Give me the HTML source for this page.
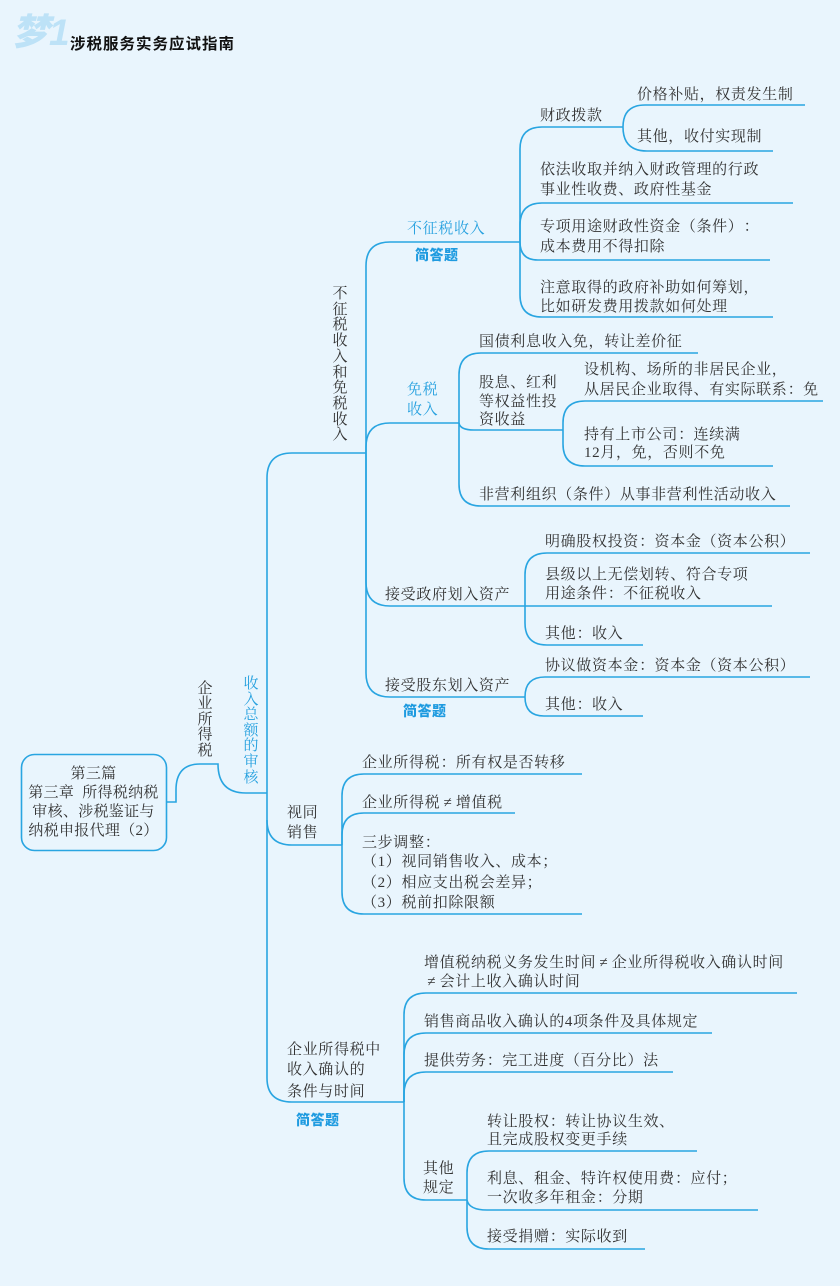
<!DOCTYPE html>
<html lang="zh-CN"><head><meta charset="utf-8"><style>
html,body{margin:0;padding:0}
body{width:840px;height:1286px;background:#e9f5fd;position:relative;overflow:hidden}
.t{position:absolute;white-space:nowrap;font-family:"Liberation Serif","Noto Serif CJK SC",serif;font-size:15px;letter-spacing:0.65px;line-height:20px;color:#333;text-spacing-trim:space-all;font-kerning:none}
.b{color:#27a1df}
.w{display:inline-block;width:15.6px;text-align:center}
.c{display:inline-block;width:15.65px;text-align:center;letter-spacing:0}
.q{position:absolute;white-space:nowrap;font-family:"Liberation Sans","Noto Sans CJK SC",sans-serif;font-weight:900;font-size:14px;line-height:20px;color:#1f9be0;letter-spacing:0.5px}
.v{position:absolute;width:20px;text-align:center;font-family:"Liberation Serif","Noto Serif CJK SC",serif;font-size:15px;color:#333}
svg{position:absolute;left:0;top:0}
</style></head><body>
<svg width="840" height="1286" viewBox="0 0 840 1286" fill="none" stroke="#29a5e1" stroke-width="1.6">
<rect x="21.5" y="754.5" width="145" height="96" rx="13" ry="13"/>
<path d="M166 802 H176 V790 Q176 764 200 764 H218 Q218 793 246 793 H267"/>
<path d="M366 453 H292 Q267 453 267 478 V1078 Q267 1102 292 1102 H404"/>
<path d="M267 820 Q267 845 292 845 H342"/>
<path d="M366 453 V266 Q366 242 390 242 H520"/>
<path d="M366 453 V447 Q366 423 390 423 H459"/>
<path d="M366 453 V582 Q366 606 390 606 H525"/>
<path d="M366 453 V673 Q366 697 390 697 H525"/>
<path d="M520 242 V149 Q520 127 542 127 H623"/>
<path d="M520 242 V225 Q520 203 542 203 H793"/>
<path d="M520 242 Q520 260 538 260 H770"/>
<path d="M520 242 V295 Q520 317 542 317 H773"/>
<path d="M623 127 Q623 105 645 105 H805"/>
<path d="M623 127 Q623 151 647 151 H773"/>
<path d="M459 423 V375 Q459 353 481 353 H698"/>
<path d="M459 423 Q460 430 474 430 H563"/>
<path d="M459 423 V484 Q459 506 481 506 H790"/>
<path d="M563 430 V423 Q563 401 585 401 H823"/>
<path d="M563 430 V444 Q563 466 585 466 H773"/>
<path d="M525 606 V575 Q525 553 547 553 H810"/>
<path d="M525 606 H772"/>
<path d="M525 606 V623 Q525 645 547 645 H643"/>
<path d="M525 697 Q525 677 545 677 H810"/>
<path d="M525 697 Q525 716 544 716 H643"/>
<path d="M342 845 V796 Q342 774 364 774 H582"/>
<path d="M342 845 V835 Q342 813 364 813 H515"/>
<path d="M342 845 V892 Q342 914 364 914 H582"/>
<path d="M404 1102 V1015 Q404 993 426 993 H797"/>
<path d="M404 1102 V1055 Q404 1033 426 1033 H712"/>
<path d="M404 1102 V1094 Q404 1072 426 1072 H673"/>
<path d="M404 1102 V1178 Q404 1200 426 1200 H467"/>
<path d="M467 1200 V1173 Q467 1151 489 1151 H697"/>
<path d="M467 1200 Q469 1210 487 1210 H758"/>
<path d="M467 1200 V1227 Q467 1249 489 1249 H645"/>
</svg>

<!-- header -->
<div style="position:absolute;left:12px;top:9px;font-family:'Liberation Sans','Noto Sans CJK SC',sans-serif;font-weight:900;font-style:italic;font-size:37px;line-height:48px;color:#bde2f7;white-space:nowrap">梦1</div>
<div style="position:absolute;left:70px;top:35px;font-family:'Liberation Sans','Noto Sans CJK SC',sans-serif;font-weight:700;font-size:15.5px;line-height:20px;letter-spacing:1px;color:#111;white-space:nowrap">涉税服务实务应试指南</div>

<!-- root box text -->
<div class="t" style="left:21px;width:145px;text-align:center;top:765px;line-height:19px;letter-spacing:0.3px">第三篇<br>第三章&nbsp;&nbsp;所得税纳税<br>审核、涉税鉴证与<br>纳税申报代理（2）</div>

<!-- vertical texts -->
<div class="v" style="left:195px;top:682px;line-height:15.4px">企<br>业<br>所<br>得<br>税</div>
<div class="v" style="left:241px;top:677px;line-height:15.6px;color:#27a1df">收<br>入<br>总<br>额<br>的<br>审<br>核</div>
<div class="v" style="left:330px;top:287px;line-height:15.7px">不<br>征<br>税<br>收<br>入<br>和<br>免<br>税<br>收<br>入</div>

<!-- blue labels -->
<div class="t b" style="left:407px;top:219px">不征税收入</div>
<div class="q" style="left:415px;top:245px">简答题</div>
<div class="t b" style="left:407px;top:380px">免税</div>
<div class="t b" style="left:407px;top:400px">收入</div>
<div class="q" style="left:403px;top:701px">简答题</div>
<div class="q" style="left:296px;top:1110px">简答题</div>

<!-- 不征税收入 children -->
<div class="t" style="left:540px;top:106px">财政拨款</div>
<div class="t" style="left:637px;top:85px">价格补贴，权责发生制</div>
<div class="t" style="left:637px;top:127px">其他，收付实现制</div>
<div class="t" style="left:540px;top:160px">依法收取并纳入财政管理的行政</div>
<div class="t" style="left:540px;top:180px">事业性收费、政府性基金</div>
<div class="t" style="left:540px;top:217px">专项用途财政性资金（条件）<span class="c">：</span></div>
<div class="t" style="left:540px;top:237px">成本费用不得扣除</div>
<div class="t" style="left:540px;top:278px">注意取得的政府补助如何筹划，</div>
<div class="t" style="left:540px;top:297px">比如研发费用拨款如何处理</div>

<!-- 免税收入 children -->
<div class="t" style="left:479px;top:332px">国债利息收入免，转让差价征</div>
<div class="t" style="left:479px;top:373px">股息、红利</div>
<div class="t" style="left:479px;top:392px">等权益性投</div>
<div class="t" style="left:479px;top:410px">资收益</div>
<div class="t" style="left:584px;top:360px">设机构、场所的非居民企业，</div>
<div class="t" style="left:584px;top:380px">从居民企业取得、有实际联系<span class="c">：</span>免</div>
<div class="t" style="left:584px;top:425px">持有上市公司<span class="c">：</span>连续满</div>
<div class="t" style="left:584px;top:443px">12月，免，否则不免</div>
<div class="t" style="left:479px;top:485px">非营利组织（条件）从事非营利性活动收入</div>

<!-- 划入资产 -->
<div class="t" style="left:385px;top:585px">接受政府划入资产</div>
<div class="t" style="left:545px;top:532px">明确股权投资<span class="c">：</span>资本金（资本公积）</div>
<div class="t" style="left:545px;top:565px">县级以上无偿划转、符合专项</div>
<div class="t" style="left:545px;top:584px">用途条件<span class="c">：</span>不征税收入</div>
<div class="t" style="left:545px;top:624px">其他<span class="c">：</span>收入</div>
<div class="t" style="left:385px;top:676px">接受股东划入资产</div>
<div class="t" style="left:545px;top:656px">协议做资本金<span class="c">：</span>资本金（资本公积）</div>
<div class="t" style="left:545px;top:695px">其他<span class="c">：</span>收入</div>

<!-- 视同销售 -->
<div class="t" style="left:287px;top:803px">视同</div>
<div class="t" style="left:287px;top:823px">销售</div>
<div class="t" style="left:362px;top:753px">企业所得税<span class="c">：</span>所有权是否转移</div>
<div class="t" style="left:362px;top:793px">企业所得税<span class="w">≠</span>增值税</div>
<div class="t" style="left:362px;top:833px">三步调整<span class="c">：</span></div>
<div class="t" style="left:362px;top:852px">（1）视同销售收入、成本；</div>
<div class="t" style="left:362px;top:873px">（2）相应支出税会差异；</div>
<div class="t" style="left:362px;top:893px">（3）税前扣除限额</div>

<!-- 收入确认 -->
<div class="t" style="left:287px;top:1040px">企业所得税中</div>
<div class="t" style="left:287px;top:1060px">收入确认的</div>
<div class="t" style="left:287px;top:1082px">条件与时间</div>
<div class="t" style="left:424px;top:953px">增值税纳税义务发生时间<span class="w">≠</span>企业所得税收入确认时间</div>
<div class="t" style="left:424px;top:972px"><span class="w">≠</span>会计上收入确认时间</div>
<div class="t" style="left:424px;top:1012px">销售商品收入确认的4项条件及具体规定</div>
<div class="t" style="left:424px;top:1051px">提供劳务<span class="c">：</span>完工进度（百分比）法</div>
<div class="t" style="left:423px;top:1159px">其他</div>
<div class="t" style="left:423px;top:1178px">规定</div>
<div class="t" style="left:487px;top:1112px">转让股权<span class="c">：</span>转让协议生效、</div>
<div class="t" style="left:487px;top:1130px">且完成股权变更手续</div>
<div class="t" style="left:487px;top:1169px">利息、租金、特许权使用费<span class="c">：</span>应付；</div>
<div class="t" style="left:487px;top:1188px">一次收多年租金<span class="c">：</span>分期</div>
<div class="t" style="left:487px;top:1227px">接受捐赠<span class="c">：</span>实际收到</div>
</body></html>
